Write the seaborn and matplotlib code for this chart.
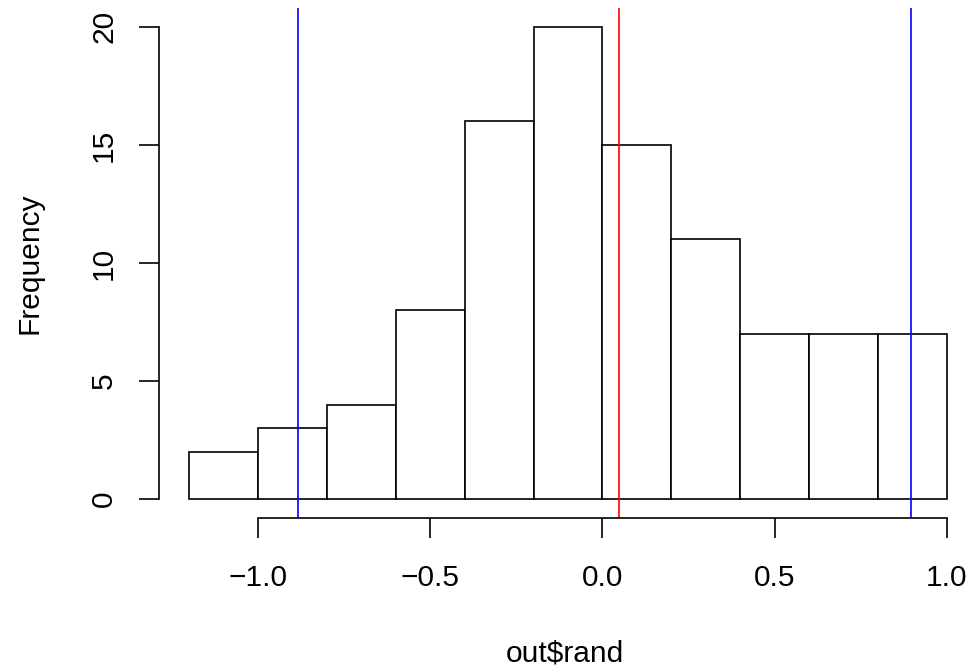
import numpy as np
import seaborn as sns
import matplotlib
matplotlib.use("Agg")
import matplotlib.pyplot as plt

# histogram breaks and counts
bin_edges = [-1.2, -1.0, -0.8, -0.6, -0.4, -0.2, 0.0, 0.2, 0.4, 0.6, 0.8, 1.0]
counts = [2, 3, 4, 8, 16, 20, 15, 11, 7, 7, 7]
blue_lines = [-0.884, 0.895]
red_lines = [0.047]
x_ticks = [-1.0, -0.5, 0.0, 0.5, 1.0]
y_ticks = [0, 5, 10, 15, 20]

sns.set_style("white")
plt.rcParams['font.family'] = ['Liberation Sans', 'DejaVu Sans']
plt.rcParams['text.color'] = 'black'

W, H = 971, 671
fig = plt.figure(figsize=(W / 100, H / 100), dpi=100)
# plot region in pixels: left 159, right 977, top 8, bottom 518
ax = fig.add_axes([159 / W, (H - 518) / H, (977 - 159) / W, (518 - 8) / H])

centers = [(a + b) / 2 for a, b in zip(bin_edges[:-1], bin_edges[1:])]
sns.histplot(x=centers, weights=counts, bins=bin_edges, color='white',
             edgecolor='black', linewidth=1.2, alpha=1, ax=ax)

for v in blue_lines:
    ax.axvline(v, color='#0000FF', lw=1.2)
for v in red_lines:
    ax.axvline(v, color='#FF0000', lw=1.2)

ax.set_xlim(-1.288, 1.088)
ax.set_ylim(-0.8, 20.8)

# R style detached axes
for s in ['top', 'right']:
    ax.spines[s].set_visible(False)
ax.spines['bottom'].set_bounds(-1.0, 1.0)
ax.spines['left'].set_bounds(0, 20)
for s in ['bottom', 'left']:
    ax.spines[s].set_linewidth(1.2)
    ax.spines[s].set_color('black')

ax.set_xticks(x_ticks)
ax.set_xticklabels([f'{t:.1f}'.replace('-', '\u2212') for t in x_ticks])
ax.set_yticks(y_ticks)
ax.set_yticklabels([str(t) for t in y_ticks], rotation=90, va='center')
ax.tick_params(axis='both', direction='out', length=14.4, width=1.2,
               color='black', labelsize=21.5, labelcolor='black',
               bottom=True, left=True)
ax.tick_params(axis='x', pad=19)
ax.tick_params(axis='y', pad=15)

ax.set_xlabel('')
ax.set_ylabel('')
fig.text(565 / W, 1 - 653 / H, r'out\$rand', ha='center', va='center',
         fontsize=21.5, color='black')
fig.text(29 / W, 1 - 263 / H, 'Frequency', ha='center', va='center',
         rotation=90, fontsize=21.5, color='black')

fig.savefig('out.png', dpi=100, facecolor='white')
